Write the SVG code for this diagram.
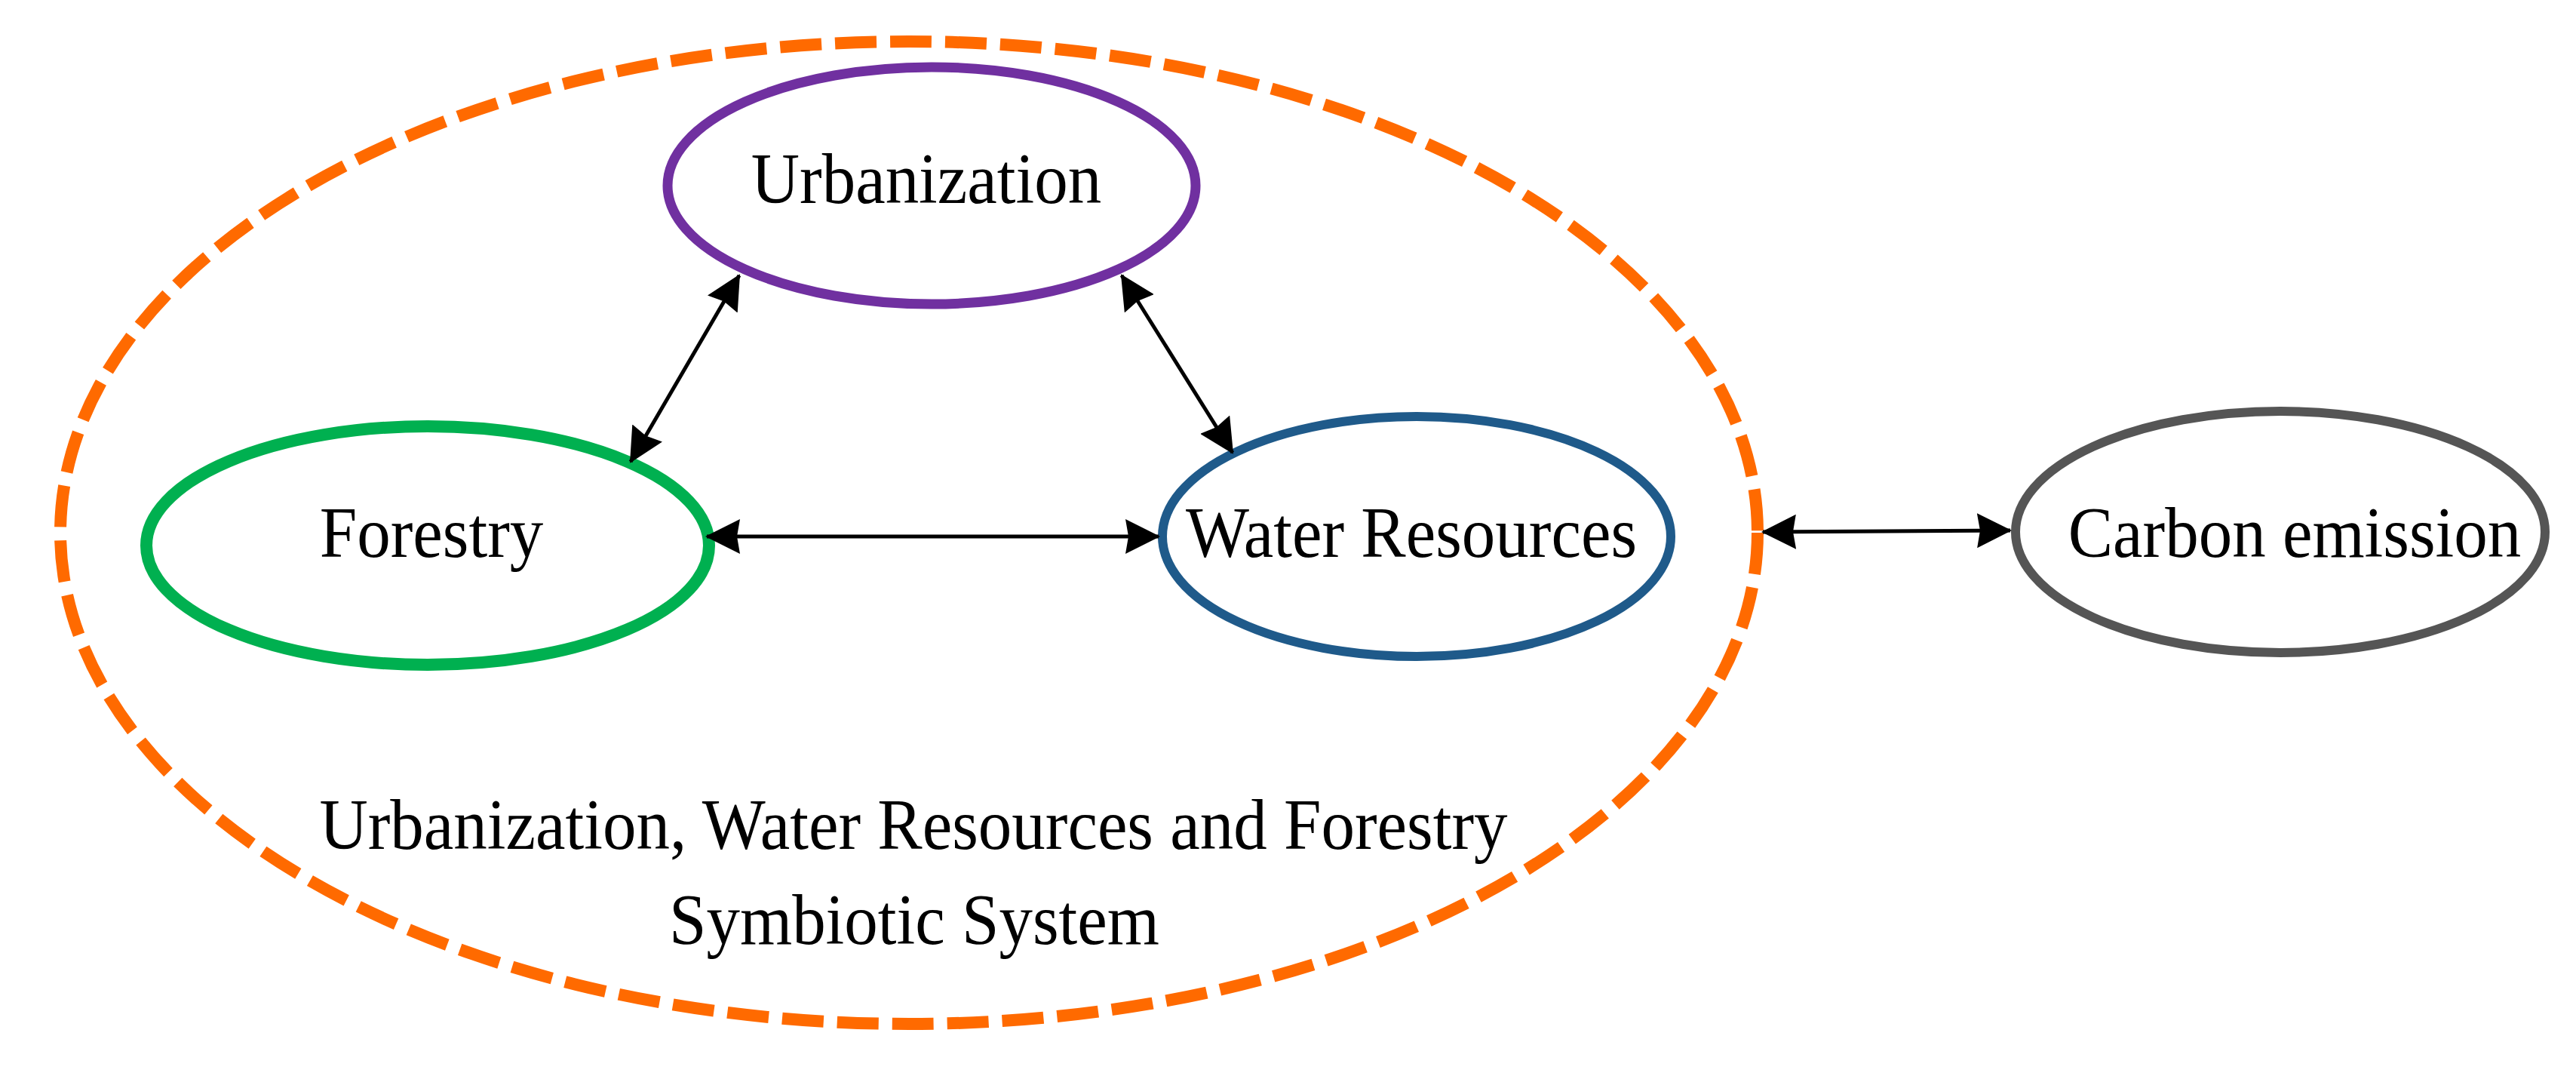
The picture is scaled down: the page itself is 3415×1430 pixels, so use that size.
<svg xmlns="http://www.w3.org/2000/svg" width="3415" height="1430" viewBox="0 0 3415 1430">
<style>
.node{fill:none;}
.lbl{font-family:"Liberation Serif","Times New Roman",serif;font-size:89px;fill:#000;text-anchor:middle;}
.conn{stroke:#000;stroke-width:5;fill:none;marker-start:url(#ah);marker-end:url(#ah);}
</style>
<defs>
<marker id="ah" viewBox="0 0 46 46" refX="44" refY="23" markerWidth="46" markerHeight="46" markerUnits="userSpaceOnUse" orient="auto-start-reverse">
<path d="M0,0 L46,23 L0,46 L4,23 Z" fill="#000"/>
</marker>
</defs>
<rect width="3415" height="1430" fill="#fff"/>
<g id="system">
<ellipse cx="1205" cy="706" rx="1125" ry="651" fill="none" stroke="#FF6A00" stroke-width="16" stroke-dasharray="55,18"/>
<text class="lbl" transform="translate(1211,1125) scale(1,1.08)">Urbanization, Water Resources and Forestry</text>
<text class="lbl" transform="translate(1212,1251) scale(1,1.08)">Symbiotic System</text>
</g>
<g id="urbanization">
<ellipse class="node" cx="1235" cy="246" rx="350" ry="157" stroke="#7030A0" stroke-width="13"/>
<text class="lbl" transform="translate(1228,269) scale(1,1.08)">Urbanization</text>
</g>
<g id="forestry">
<ellipse class="node" cx="567" cy="723" rx="373" ry="158" stroke="#00B050" stroke-width="16"/>
<text class="lbl" transform="translate(572,738) scale(1,1.08)">Forestry</text>
</g>
<g id="water">
<ellipse class="node" cx="1878" cy="711" rx="337" ry="159" stroke="#1F5A8A" stroke-width="12"/>
<text class="lbl" transform="translate(1871,738) scale(1,1.08)">Water Resources</text>
</g>
<g id="carbon">
<ellipse class="node" cx="3023" cy="705" rx="351" ry="160" stroke="#555555" stroke-width="12"/>
<text class="lbl" transform="translate(3042,738) scale(1,1.08)">Carbon emission</text>
</g>
<g id="connectors">
<line class="conn" x1="980" y1="365" x2="836" y2="612"/>
<line class="conn" x1="1487" y1="365" x2="1634" y2="600"/>
<line class="conn" x1="937" y1="711" x2="1536" y2="711"/>
<line class="conn" x1="2337" y1="705" x2="2665" y2="703"/>
</g>
</svg>
